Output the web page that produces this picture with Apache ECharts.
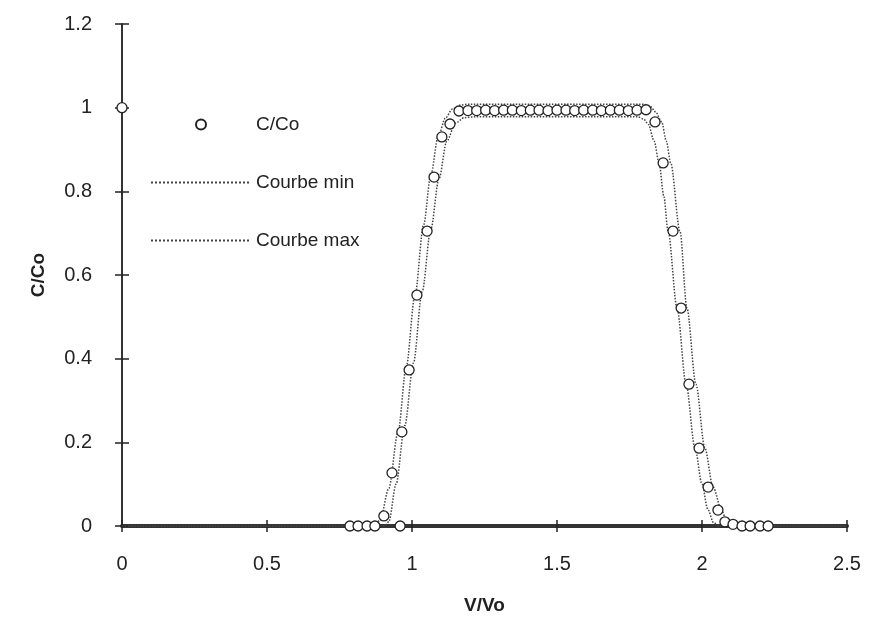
<!DOCTYPE html>
<html>
<head>
<meta charset="utf-8">
<script src="https://cdn.jsdelivr.net/npm/echarts@6/dist/echarts.min.js"></script>
<style>html,body{margin:0;padding:0;background:#fff;}#c{width:872px;height:622px;}</style>
</head>
<body>
<div id="c"></div>
<script>
// Measured points C/Co vs V/Vo
const vData = [0, 0.786, 0.814, 0.845, 0.872, 0.903, 0.931, 0.959, 0.965, 0.99, 1.017, 1.052, 1.076, 1.103, 1.131,
  1.162, 1.193, 1.223, 1.254, 1.285, 1.316, 1.346, 1.377, 1.408, 1.438, 1.469, 1.500, 1.531, 1.561, 1.592, 1.623, 1.653, 1.684, 1.715, 1.746, 1.776, 1.807,
  1.838, 1.866, 1.900, 1.928, 1.955, 1.990, 2.021, 2.055, 2.079, 2.107, 2.138, 2.166, 2.200, 2.228];
const cData = [1.0, 0, 0, 0, 0, 0.024, 0.127, 0, 0.225, 0.373, 0.552, 0.705, 0.834, 0.930, 0.961,
  0.992, 0.993, 0.993, 0.994, 0.993, 0.994, 0.994, 0.993, 0.994, 0.994, 0.993, 0.994, 0.994, 0.993, 0.994, 0.994, 0.993, 0.994, 0.994, 0.993, 0.994, 0.995,
  0.966, 0.868, 0.705, 0.521, 0.339, 0.186, 0.093, 0.038, 0.010, 0.004, 0, 0, 0, 0];

// Courbe min (inner envelope)
const minV = [0, 0.905, 0.92, 0.945, 0.975, 1.005, 1.035, 1.065, 1.093, 1.12, 1.15, 1.18, 1.21,
  1.78, 1.80, 1.815, 1.835, 1.852, 1.868, 1.883, 1.914, 1.945, 1.976, 2.0, 2.02, 2.04, 2.06, 2.5];
const minC = [0, 0, 0.01, 0.1, 0.24, 0.39, 0.56, 0.71, 0.83, 0.92, 0.963, 0.976, 0.978,
  0.978, 0.972, 0.96, 0.92, 0.868, 0.79, 0.705, 0.521, 0.339, 0.186, 0.1, 0.04, 0.008, 0, 0];

// Courbe max (outer envelope)
const maxV = [0, 0.87, 0.89, 0.92, 0.952, 0.98, 1.01, 1.04, 1.065, 1.09, 1.115, 1.14, 1.165, 1.19,
  1.80, 1.82, 1.84, 1.861, 1.877, 1.892, 1.924, 1.948, 1.979, 2.01, 2.038, 2.069, 2.085, 2.1, 2.12, 2.5];
const maxC = [0, 0, 0.014, 0.09, 0.225, 0.38, 0.55, 0.72, 0.84, 0.93, 0.975, 0.997, 1.006, 1.008,
  1.008, 1.004, 0.99, 0.966, 0.92, 0.868, 0.705, 0.521, 0.339, 0.186, 0.093, 0.035, 0.012, 0.002, 0, 0];

const xTicks = ['0', '0.5', '1', '1.5', '2', '2.5'];
const yTicks = ['0', '0.2', '0.4', '0.6', '0.8', '1', '1.2'];

const zip = (a, b) => a.map((v, i) => [v, b[i]]);
const ink = '#222';
const font = 'Liberation Sans, Arial, sans-serif';
const hideSym = {color: 'rgba(0,0,0,0)', borderColor: 'rgba(0,0,0,0)', borderWidth: 0};

const chart = echarts.init(document.getElementById('c'), null, {renderer: 'canvas'});
chart.setOption({
  animation: false,
  backgroundColor: '#fff',
  grid: {left: 122, right: 25, top: 24, bottom: 96},
  legend: {
    orient: 'vertical', left: 145, top: 109,
    itemWidth: 100, itemHeight: 10, itemGap: 37,
    textStyle: {fontFamily: font, fontSize: 19, color: ink, lineHeight: 21},
    data: [
      {name: 'C/Co'},
      {name: 'Courbe min', itemStyle: hideSym},
      {name: 'Courbe max', itemStyle: hideSym}
    ]
  },
  xAxis: [{
    type: 'value', min: 0, max: 2.5, interval: 0.5, position: 'bottom',
    name: 'V/Vo', nameLocation: 'middle', nameGap: 70,
    nameTextStyle: {fontFamily: font, fontSize: 19, fontWeight: 'bold', color: ink},
    axisLine: {show: true, onZero: false, lineStyle: {color: '#333', width: 4}},
    axisTick: {show: true, inside: false, length: 6, lineStyle: {color: ink, width: 1.5}},
    axisLabel: {fontFamily: font, fontSize: 20, color: ink, margin: 28,
      formatter: (v) => xTicks[Math.round(v / 0.5)]},
    splitLine: {show: false}
  }, {
    type: 'value', min: 0, max: 2.5, interval: 0.5, position: 'bottom',
    axisLine: {show: false, onZero: false},
    axisTick: {show: true, inside: true, length: 6, lineStyle: {color: ink, width: 1.5}},
    axisLabel: {show: false}, splitLine: {show: false}
  }],
  yAxis: [{
    type: 'value', min: 0, max: 1.2, interval: 0.2, position: 'left',
    name: 'C/Co', nameLocation: 'middle', nameGap: 74,
    nameTextStyle: {fontFamily: font, fontSize: 19, fontWeight: 'bold', color: ink},
    axisLine: {show: true, onZero: false, lineStyle: {color: '#333', width: 2}},
    axisTick: {show: true, inside: false, length: 7, lineStyle: {color: ink, width: 1.5}},
    axisLabel: {fontFamily: font, fontSize: 20, color: ink, margin: 30,
      formatter: (v) => yTicks[Math.round(v / 0.2)]},
    splitLine: {show: false}
  }, {
    type: 'value', min: 0, max: 1.2, interval: 0.2, position: 'left',
    axisLine: {show: false, onZero: false},
    axisTick: {show: true, inside: true, length: 7, lineStyle: {color: ink, width: 1.5}},
    axisLabel: {show: false}, splitLine: {show: false}
  }],
  series: [{
    name: 'Courbe min', type: 'line', data: zip(minV, minC),
    showSymbol: false, symbol: 'none', smooth: 0.3, smoothMonotone: 'x',
    lineStyle: {color: '#444', width: 1.5, type: 'dotted'}, itemStyle: {color: '#444'}, z: 3
  }, {
    name: 'Courbe max', type: 'line', data: zip(maxV, maxC),
    showSymbol: false, symbol: 'none', smooth: 0.3, smoothMonotone: 'x',
    lineStyle: {color: '#444', width: 1.5, type: 'dotted'}, itemStyle: {color: '#444'}, z: 3
  }, {
    name: 'C/Co', type: 'scatter', data: zip(vData, cData),
    symbol: 'circle', symbolSize: 10,
    itemStyle: {color: '#fff', borderColor: ink, borderWidth: 1.3, opacity: 1}, z: 5
  }]
});
</script>
</body>
</html>
